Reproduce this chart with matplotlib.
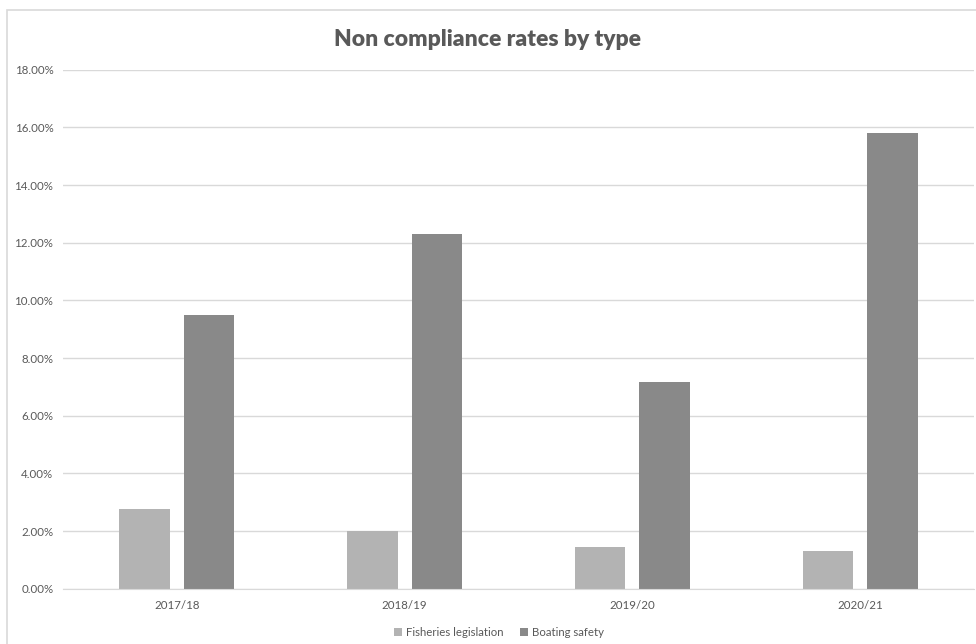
import matplotlib
matplotlib.use("Agg")
import matplotlib.pyplot as plt
import numpy as np
from matplotlib.patches import Rectangle
from matplotlib.ticker import FuncFormatter

categories = ["2017/18", "2018/19", "2019/20", "2020/21"]
fisheries = [2.75, 2.01, 1.45, 1.31]
boating = [9.48, 12.30, 7.16, 15.80]
series_names = ["Fisheries legislation", "Boating safety"]
y_ticks = [0, 2, 4, 6, 8, 10, 12, 14, 16, 18]

plt.rcParams['font.family'] = ['Lato', 'DejaVu Sans']
W, H = 976, 644
fig = plt.figure(figsize=(W/100, H/100), dpi=100)

# chart border
fig.patches.append(Rectangle((7/W, -0.01), 1.0, 1 - 10/H + 0.01, transform=fig.transFigure,
                             fill=False, edgecolor="#d9d9d9", linewidth=1.2))

ax = fig.add_axes([63/W, 1 - 588.7/H, (974-63)/W, (588.7-69.7)/H])
x = np.arange(len(categories))
w = 0.221
off = 0.1416
ax.bar(x - off, fisheries, w, color="#b3b3b3", label=series_names[0], zorder=3)
ax.bar(x + off, boating, w, color="#898989", label=series_names[1], zorder=3)

ax.set_xlim(-0.5, len(categories) - 0.5)
ax.set_ylim(0, 18)
ax.set_yticks(y_ticks)
ax.yaxis.set_major_formatter(FuncFormatter(lambda v, p: f"{v:.2f}%"))
ax.set_xticks(x)
ax.set_xticklabels(categories)
ax.grid(axis="y", color="#d9d9d9", linewidth=1, zorder=0)
for s in ["top", "right", "left"]:
    ax.spines[s].set_visible(False)
ax.spines["bottom"].set_color("#d9d9d9")
ax.spines["bottom"].set_zorder(4)
ax.tick_params(axis="both", length=0, colors="#595959", labelsize=8.3)
ax.tick_params(axis="y", pad=7)
ax.tick_params(axis="x", pad=8)

fig.text(488/W, 1 - 40/H, "Non compliance rates by type", ha="center", va="center",
         fontsize=16.5, fontweight="heavy", color="#595959")

fig.legend(loc="center", bbox_to_anchor=(499/W, 1 - 632/H), ncol=2, frameon=False,
           fontsize=8.2, labelcolor="#595959", handlelength=0.7, handleheight=0.7,
           handletextpad=0.3, columnspacing=1.5)

fig.savefig("out.png", dpi=100)
